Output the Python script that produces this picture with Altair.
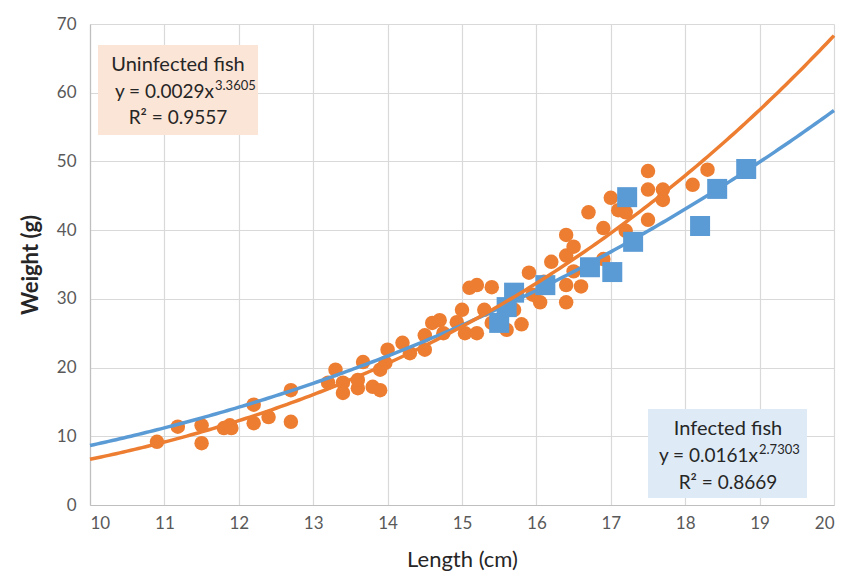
import altair as alt
import pandas as pd

# Uninfected fish (orange circles)
uninf_len = [10.9, 11.18, 11.5, 11.5, 11.8, 11.88, 11.9, 12.2, 12.2, 12.4, 12.7, 12.7,
             13.2, 13.3, 13.4, 13.4, 13.6, 13.6, 13.67, 13.8, 13.9, 13.9, 13.97, 14.0,
             14.2, 14.3, 14.5, 14.5, 14.6, 14.7, 14.75, 14.93, 15.0, 15.04, 15.1, 15.2,
             15.2, 15.3, 15.4, 15.4, 15.6, 15.7, 15.8, 15.9, 15.95, 16.05, 16.1, 16.2,
             16.4, 16.4, 16.4, 16.4, 16.5, 16.5, 16.6, 16.7, 16.9, 16.9, 17.0, 17.1,
             17.2, 17.2, 17.5, 17.5, 17.5, 17.7, 17.7, 18.1, 18.3]
uninf_wt = [9.2, 11.4, 9.0, 11.6, 11.2, 11.6, 11.2, 14.6, 11.9, 12.8, 16.7, 12.1,
            17.8, 19.7, 17.8, 16.3, 17.0, 18.2, 20.8, 17.2, 16.7, 19.7, 20.7, 22.6,
            23.6, 22.1, 22.6, 24.7, 26.5, 26.9, 25.0, 26.6, 28.4, 25.0, 31.6, 32.0,
            25.0, 28.4, 31.7, 26.5, 25.5, 28.4, 26.3, 33.8, 30.6, 29.5, 32.5, 35.4,
            39.3, 36.3, 32.0, 29.5, 37.6, 34.0, 31.8, 42.6, 40.3, 35.8, 44.7, 42.9,
            42.6, 39.9, 48.6, 45.9, 41.5, 45.9, 44.4, 46.6, 48.8]

# Infected fish (blue squares)
inf_len = [15.5, 15.6, 15.7, 16.12, 16.72, 17.02, 17.22, 17.3, 18.2, 18.43, 18.82]
inf_wt = [26.5, 28.8, 30.9, 32.0, 34.6, 33.9, 44.8, 38.3, 40.6, 46.0, 48.9]

# Trendline equations shown on the chart: y = a * x^b
uninf_fit = [0.0029, 3.3605]
inf_fit = [0.0161, 2.7303]

ORANGE = "#ED7D31"
BLUE = "#5B9BD5"
FONT = "Lato"

df_u = pd.DataFrame({"Length": uninf_len, "Weight": uninf_wt})
df_i = pd.DataFrame({"Length": inf_len, "Weight": inf_wt})

xs = alt.Scale(domain=[10, 20], nice=False)
ys = alt.Scale(domain=[0, 70], nice=False)

xax = alt.Axis(values=list(range(10, 21)), format="d", title="Length (cm)", grid=True, ticks=False,
               labelPadding=10, titlePadding=18, labelFontSize=17, titleFontSize=22,
               titleFontWeight="normal")
yax = alt.Axis(values=list(range(0, 71, 10)), format="d", title="Weight (g)", grid=True, ticks=False,
               labelPadding=14, titlePadding=14, labelFontSize=17, titleFontSize=22,
               titleFontWeight="bold")

pts_u = alt.Chart(df_u).mark_circle(size=210, opacity=1, color=ORANGE).encode(
    x=alt.X("Length:Q", scale=xs, axis=xax),
    y=alt.Y("Weight:Q", scale=ys, axis=yax),
)
pts_i = alt.Chart(df_i).mark_square(size=400, opacity=1, color=BLUE).encode(
    x=alt.X("Length:Q", scale=xs),
    y=alt.Y("Weight:Q", scale=ys),
)

def trend(fit, color):
    return alt.Chart(alt.sequence(10, 20.01, 0.05, as_="Length")).transform_calculate(
        Weight=f"{fit[0]} * pow(datum.Length, {fit[1]})"
    ).mark_line(color=color, strokeWidth=3.5).encode(
        x=alt.X("Length:Q", scale=xs),
        y=alt.Y("Weight:Q", scale=ys),
    )

line_i = trend(inf_fit, BLUE)
line_u = trend(uninf_fit, ORANGE)

def box(x, x2, y, y2, fill):
    return alt.Chart().mark_rect(fill=fill).encode(
        x=alt.value(x), x2=alt.value(x2), y=alt.value(y), y2=alt.value(y2))

def txt(s, x, y, size=19, align="center"):
    return alt.Chart().mark_text(text=s, font=FONT, fontSize=size, align=align,
                                 baseline="alphabetic", color="#262626").encode(
        x=alt.value(x), y=alt.value(y))

ann_u = [
    box(8, 168, 21, 111, "#FBE5D6"),
    txt("Uninfected fish", 88, 47, size=20),
    txt("y = 0.0029x", 124, 74, align="right"),
    txt("3.3605", 125, 66, size=13, align="left"),
    txt("R² = 0.9557", 88, 100),
]
ann_i = [
    box(558, 717, 385, 474, "#DEEBF7"),
    txt("Infected fish", 638, 411, size=20),
    txt("y = 0.0161x", 668, 438, align="right"),
    txt("2.7303", 669, 430, size=13, align="left"),
    txt("R² = 0.8669", 638, 465),
]

chart = alt.layer(
    pts_u, pts_i, line_i, line_u, *ann_u, *ann_i
).properties(
    width=744, height=481,
    autosize=alt.AutoSizeParams(type="none"),
    padding={"left": 82, "top": 16, "right": 6, "bottom": 74},
).configure_view(strokeWidth=0).configure_axis(
    labelFont=FONT, titleFont=FONT, labelColor="#595959", titleColor="#262626",
    gridColor="#D9D9D9", gridWidth=1.2, domainColor="#BFBFBF", domainWidth=1.2,
)

chart.save("out.html", embed_options={"renderer": "svg", "actions": False})
